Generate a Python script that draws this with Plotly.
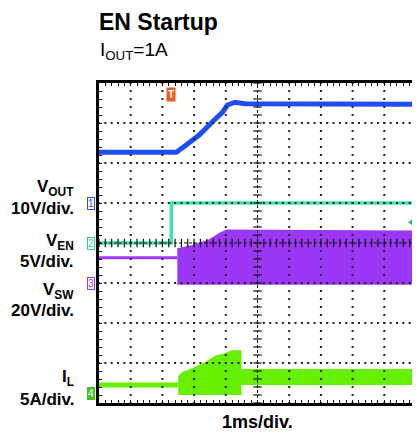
import numpy as np
import plotly.graph_objects as go

# ---------------- data ----------------
# time axis: ms from left edge of screen (1 ms/div, 10 div)
# CH1 VOUT [V], 10 V/div
vout_t = [0.0, 2.44, 2.75, 3.16, 3.63, 3.9, 4.05, 4.3, 4.6, 10.0]
vout_v = [12.7, 12.7, 14.5, 17.0, 20.7, 22.7, 24.5, 25.2, 24.8, 24.7]

# CH2 VEN [V], 5 V/div
ven_t = [0.0, 2.28, 2.28, 10.0]
ven_v = [0.0, 0.0, 5.0, 5.0]
ven_trig_t = [9.88]
ven_trig_v = [2.6]

# CH3 VSW [V], 20 V/div  (idle level, then switching envelope)
vsw_idle_t = [0.0, 2.47]
vsw_idle_v = [12.6, 12.6]
vsw_top_t = [2.47, 2.94, 3.47, 3.84, 4.03, 10.0]
vsw_top_v = [17.0, 18.6, 21.4, 25.0, 26.4, 25.8]
vsw_bot_t = [2.47, 10.0]
vsw_bot_v = [-0.5, -0.5]

# CH4 IL [A], 5 A/div
il_idle_t = [0.0, 2.5]
il_idle_a = [1.0, 1.0]
il_top_t = [2.5, 2.63, 3.0, 3.41, 3.69, 4.0, 4.19, 4.47, 4.47, 10.0]
il_top_a = [2.0, 2.5, 3.1, 3.9, 4.6, 4.9, 5.25, 5.25, 2.9, 2.9]
il_bot_t = [2.5, 4.47, 4.47, 10.0]
il_bot_a = [-0.15, -0.15, 1.1, 1.1]

trigger_t = 2.28

# ---------------- styling ----------------
C_BLUE = "#1f4ef5"
C_TEAL = "#40e6b2"
C_PURP = "#9a38f6"
C_GREEN = "#66f000"
C_ORANGE = "#f05a23"
FONT = "Liberation Sans"

# channel scale: (ground position in div, units per div)
ch = {
    "y2": (1.0, 10.0),    # VOUT
    "y3": (0.0, 5.0),     # VEN
    "y4": (-1.0, 20.0),   # VSW
    "y5": (-3.75, 5.0),   # IL
}

fig = go.Figure()

# CH3 VSW
fig.add_trace(go.Scatter(x=vsw_idle_t, y=vsw_idle_v, yaxis="y4", mode="lines",
                         line=dict(color=C_PURP, width=3), hoverinfo="skip"))
fig.add_trace(go.Scatter(x=vsw_top_t + vsw_bot_t[::-1], y=vsw_top_v + vsw_bot_v[::-1],
                         yaxis="y4", mode="lines", fill="toself", fillcolor=C_PURP,
                         line=dict(color=C_PURP, width=1.5), hoverinfo="skip"))
# CH2 VEN
fig.add_trace(go.Scatter(x=ven_t, y=ven_v, yaxis="y3", mode="lines",
                         line=dict(color=C_TEAL, width=3.5), hoverinfo="skip"))
fig.add_trace(go.Scatter(x=ven_trig_t, y=ven_trig_v, yaxis="y3", mode="markers",
                         marker=dict(symbol="triangle-left", size=8, color="#2cb890"),
                         hoverinfo="skip"))
# CH1 VOUT
fig.add_trace(go.Scatter(x=vout_t, y=vout_v, yaxis="y2", mode="lines",
                         line=dict(color=C_BLUE, width=5), hoverinfo="skip"))
# CH4 IL
fig.add_trace(go.Scatter(x=il_idle_t, y=il_idle_a, yaxis="y5", mode="lines",
                         line=dict(color=C_GREEN, width=5), hoverinfo="skip"))
fig.add_trace(go.Scatter(x=il_top_t + il_bot_t[::-1], y=il_top_a + il_bot_a[::-1],
                         yaxis="y5", mode="lines", fill="toself", fillcolor=C_GREEN,
                         line=dict(color=C_GREEN, width=1.5), hoverinfo="skip"))

# ---------------- graticule (on top) ----------------
sub_x = np.round(np.arange(0, 10.0001, 0.2), 3)
sub_y = np.round(np.arange(-4, 4.0001, 0.2), 3)
gx, gy = [], []
for yv in [-3, -2, -1, 1, 2, 3]:
    gx += list(sub_x); gy += [yv] * len(sub_x)
for xv in [1, 2, 3, 4, 6, 7, 8, 9]:
    gx += [xv] * len(sub_y); gy += list(sub_y)
fig.add_trace(go.Scatter(x=gx, y=gy, yaxis="y6", mode="markers",
                         marker=dict(symbol="square", size=2, color="#222"),
                         hoverinfo="skip"))
# centre cross
fig.add_trace(go.Scatter(x=[0, 10], y=[0, 0], yaxis="y6", mode="lines",
                         line=dict(color="#111", width=1, dash="3px,2px"), hoverinfo="skip"))
fig.add_trace(go.Scatter(x=[5, 5], y=[-4, 4], yaxis="y6", mode="lines",
                         line=dict(color="#111", width=1, dash="3px,2px"), hoverinfo="skip"))
fig.add_trace(go.Scatter(x=list(sub_x), y=[0] * len(sub_x), yaxis="y6", mode="markers",
                         marker=dict(symbol="line-ns", size=6, line=dict(width=1.2, color="#111")),
                         hoverinfo="skip"))
fig.add_trace(go.Scatter(x=[5] * len(sub_y), y=list(sub_y), yaxis="y6", mode="markers",
                         marker=dict(symbol="line-ew", size=6, line=dict(width=1.2, color="#111")),
                         hoverinfo="skip"))

ax_common = dict(showgrid=False, zeroline=False, showticklabels=False)
# page body has an 8 px margin -> figure is 412x429 with margins reduced by 8
layout = dict(
    width=412, height=429,
    margin=dict(l=91, r=1, t=75, b=34),
    paper_bgcolor="white", plot_bgcolor="white",
    showlegend=False,
    font=dict(family=FONT),
    xaxis=dict(range=[0, 10], ticks="inside", dtick=0.2, tick0=0, ticklen=3,
               tickwidth=1, tickcolor="#111", showline=True, linewidth=3,
               linecolor="black", mirror="ticks", **ax_common),
    yaxis=dict(range=[-4, 4], ticks="inside", dtick=0.2, tick0=0, ticklen=3,
               tickwidth=1, tickcolor="#111", showline=True, linewidth=3,
               linecolor="black", mirror="ticks", **ax_common),
)
for name, (g, s) in ch.items():
    key = "yaxis" + name[1:]
    layout[key] = dict(range=[(-4 - g) * s, (4 - g) * s], overlaying="y",
                       visible=False, **ax_common)
layout["yaxis6"] = dict(range=[-4, 4], overlaying="y", visible=False, **ax_common)
fig.update_layout(**layout)

ann = []
# title
ann.append(dict(text="<b>EN Startup</b>", xref="paper", yref="paper", x=0, xshift=-2, y=1.19,
                xanchor="left", yanchor="middle", showarrow=False,
                font=dict(family=FONT, size=23, color="black")))
ann.append(dict(text="I<sub>OUT</sub>=1A", xref="paper", yref="paper", x=0, xshift=-1, y=1.10,
                xanchor="left", yanchor="middle", showarrow=False,
                font=dict(family=FONT, size=19, color="black")))
ann.append(dict(text="<b>1ms/div.</b>", xref="x", yref="paper", x=5, y=-0.059,
                xanchor="center", yanchor="middle", showarrow=False,
                font=dict(family=FONT, size=18, color="black")))
# channel labels (left)
labels = [("<b>V<sub>OUT</sub></b>", 1.38), ("<b>10V/div.</b>", 0.86),
          ("<b>V<sub>EN</sub></b>", 0.02), ("<b>5V/div.</b>", -0.47),
          ("<b>V<sub>SW</sub></b>", -1.2), ("<b>20V/div.</b>", -1.69),
          ("<b>I<sub>L</sub></b>", -3.38), ("<b>5A/div.</b>", -3.92)]
for txt, yv in labels:
    ann.append(dict(text=txt, xref="paper", yref="y", x=0, xshift=-23, y=yv,
                    xanchor="right", yanchor="middle", showarrow=False,
                    font=dict(family=FONT, size=17, color="black")))
# channel ground markers
markers = [("1", 1.0, C_BLUE, "white", C_BLUE),
           ("2", 0.0, "#2fcf9a", "white", "#2fcf9a"),
           ("3", -1.0, C_PURP, "white", C_PURP),
           ("4", -3.75, "white", "#44c21a", "#44c21a")]
for txt, yv, fc, bg, bc in markers:
    ann.append(dict(text=txt, xref="paper", yref="y", x=0, xshift=-4, y=yv,
                    xanchor="right", yanchor="middle", showarrow=False,
                    bgcolor=bg, bordercolor=bc, borderwidth=1, borderpad=0,
                    font=dict(family=FONT, size=10, color=fc)))
# trigger marker
ann.append(dict(text="<b>T</b>", xref="x", yref="paper", x=trigger_t, y=1, yshift=-4,
                xanchor="center", yanchor="top", showarrow=False,
                bgcolor=C_ORANGE, borderpad=1,
                font=dict(family=FONT, size=10, color="white")))
fig.update_layout(annotations=ann)

fig.write_html("out.html")
